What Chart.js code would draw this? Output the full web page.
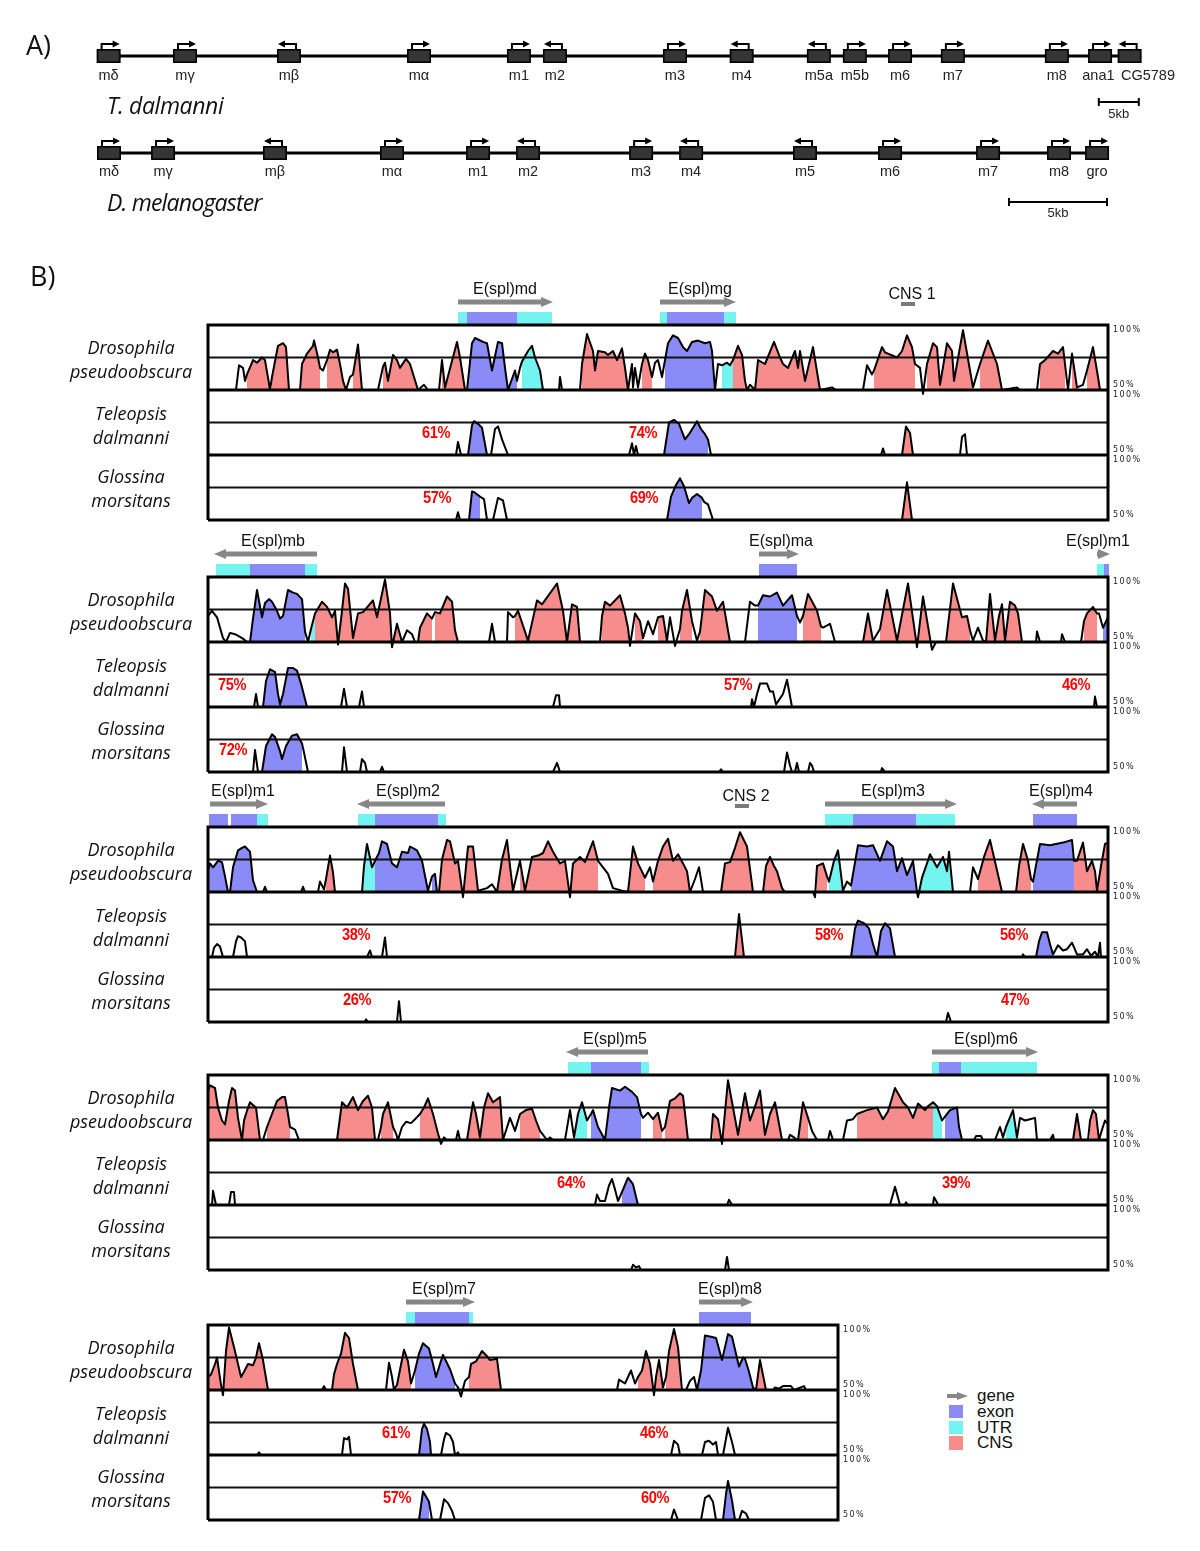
<!DOCTYPE html>
<html><head><meta charset="utf-8">
<script src="https://cdn.jsdelivr.net/npm/chart.js@4.4.0/dist/chart.umd.min.js"></script>
<style>
body{margin:0;background:#fff;}
#wrap{position:relative;width:1200px;height:1551px;overflow:hidden;background:#fff;}
.t{position:absolute;white-space:nowrap;color:#111;}
.sp{position:absolute;left:31px;width:200px;text-align:center;font:italic 18px "Open Sans";color:#111;line-height:24px;height:24px;}
canvas{position:absolute;}
</style></head><body><div id="wrap"></div>
<script>
// ---------------- Panel A data (positions in kb) ----------------
const TD_GENES = ['mδ','mγ','mβ','mα','m1','m2','m3','m4','m5a','m5b','m6','m7','m8','ana1','CG5789'];
const TD_POS = [1.45,11.0,24.0,40.25,52.75,57.25,72.25,80.6,90.25,94.75,100.4,107.0,120.0,125.4,129.1];
const TD_LABEL_POS = [1.45,11.0,24.0,40.25,52.75,57.25,72.25,80.6,90.25,94.75,100.4,107.0,120.0,125.2,131.4];
const TD_STRAND = [1,1,-1,1,1,-1,1,-1,-1,1,1,1,1,1,-1];
const TD_LEN = 130.4;
const TD_SCALE = [125.25,130.25];
const DM_GENES = ['mδ','mγ','mβ','mα','m1','m2','m3','m4','m5','m6','m7','m8','gro'];
const DM_POS = [0.61,3.37,9.08,15.05,19.44,21.99,27.76,30.31,36.12,40.46,45.46,49.08,51.02];
const DM_STRAND = [1,1,-1,1,1,-1,1,-1,-1,1,1,1,1];
const DM_LEN = 51.58;
const DM_SCALE = [46.53,51.53];
const SCALE_LABEL = '5kb';

// ---------------- Panel B data ----------------
// conservation curves: [position, % identity, fill type] (0 none, 1 CNS, 2 exon, 3 UTR); null = gap
const DP1 = [[28,50,0],[31,69,0],[35,67,0],[37,57,0],[39,62,1],[45,73,1],[49,71,1],[54,75,1],[57,73,1],[61,55,1],[62,50,0],[64,60,1],[70,84,1],[75,86,1],[78,83,1],[81,50,0],null,
[92,50,1],[94,70,1],[99,78,1],[105,84,1],[106,88,1],[110,75,1],[112,67,0],[115,65,0],[119,73,1],[122,81,1],[125,79,1],[129,81,1],[132,70,1],[135,57,1],[138,50,0],[142,60,0],[145,62,1],[150,85,1],[154,50,0],null,
[170,50,0],[175,68,1],[177,71,1],[180,57,1],[185,77,1],[189,73,1],[192,67,1],[198,74,1],[202,70,1],[210,50,0],[216,54,0],[220,50,0],null,
[231,50,0],[234,73,1],[237,52,1],[249,87,1],[252,75,1],[257,50,0],[259,50,2],[264,86,2],[267,90,2],[275,87,2],[279,86,2],[284,65,2],[290,87,2],[294,86,2],[297,67,2],[300,50,2],[307,65,2],[309,57,0],[312,67,0],[314,72,3],[320,80,3],[324,84,3],[327,75,3],[332,65,3],[335,50,0],null,
[351,50,0],[352,60,0],[354,50,0],null,
[372,50,0],[374,70,1],[379,93,1],[385,80,1],[387,65,1],[390,80,1],[397,79,1],[400,77,1],[405,80,1],[409,73,1],[414,82,1],[417,67,1],[420,50,0],[424,70,0],[425,52,0],[427,67,0],[430,52,0],[434,70,1],[437,78,1],[440,73,1],[444,60,0],[447,71,0],[450,73,0],[454,60,0],[457,73,2],[460,86,2],[465,92,2],[470,90,2],[475,83,2],[479,80,2],[484,87,2],[490,88,2],[497,86,2],[502,87,2],[504,80,2],[507,50,0],[510,70,0],[514,69,3],[519,71,3],[522,69,3],[525,73,1],[530,84,1],[534,77,1],[537,57,1],[539,50,0],[542,54,0],[547,50,1],[550,73,1],[557,70,1],[566,87,1],[572,75,1],[575,70,1],[580,67,1],[587,80,1],[590,67,1],[592,80,1],[597,57,1],[605,83,1],[612,50,0],[624,52,0],[628,50,0],null,
[655,50,0],[659,69,0],[664,62,0],[666,65,1],[674,83,1],[677,79,1],[689,75,1],[694,80,1],[699,92,1],[704,83,1],[707,70,0],[712,67,0],[715,47,0],[719,70,1],[725,86,1],[729,83,1],[732,54,1],[739,86,1],[744,80,1],[746,57,1],[755,96,1],[762,65,1],[765,52,0],[772,70,1],[780,88,1],[789,70,1],[794,50,0],[809,52,0],[812,50,0],null,
[829,50,0],[832,70,1],[837,73,1],[845,80,1],[850,78,1],[855,83,1],[857,70,0],[860,50,0],[864,78,1],[869,52,0],[875,54,0],[879,65,1],[885,83,1],[890,60,1],[892,50,0],[900,50,0]];
const TD1 = [[248,50,0],[250,60,0],[253,50,0],null,[260,50,2],[264,73,2],[266,76,2],[270,74,2],[274,71,2],[279,50,0],[283,50,0],[287,70,0],[290,72,0],[294,62,0],[300,50,0],null,[421,50,0],[424,59,0],[426,50,0],[428,57,0],[430,50,0],null,[456,50,2],[461,75,2],[466,77,2],[471,74,2],[477,62,2],[481,66,2],[489,76,2],[493,70,2],[497,66,2],[500,62,0],[503,50,0],[505,50,0],null,[673,50,0],[675,55,0],[677,50,0],null,[694,50,1],[698,72,1],[702,67,1],[705,50,0],null,[752,50,0],[754,64,0],[757,66,0],[759,50,0]];
const GM1 = [[248,50,0],[250,56,0],[252,50,0],null,[261,50,2],[264,72,2],[267,71,2],[272,68,0],[276,66,0],[279,50,0],null,[285,50,0],[290,67,0],[295,65,0],[299,50,0],null,[459,50,2],[463,68,2],[468,77,2],[472,82,2],[476,76,2],[481,63,2],[484,67,2],[489,70,2],[494,67,0],[496,64,0],[500,62,0],[505,50,0],null,[694,50,1],[699,79,1],[704,50,0]];

const DP2 = [[0,70,0],[4,74,0],[9,69,0],[15,53,0],[18,50,0],[22,57,0],[27,56,0],[32,54,0],[36,52,0],[39,50,0],[42,50,2],[45,68,2],[49,90,2],[54,69,2],[57,80,2],[61,83,2],[64,81,2],[69,74,2],[72,68,2],[75,70,2],[80,90,2],[85,88,2],[89,87,2],[94,83,2],[97,58,0],[100,50,0],[103,60,3],[107,72,1],[114,81,1],[119,77,1],[124,69,1],[127,74,1],[130,48,1],[134,74,1],[137,95,1],[140,91,1],[145,53,1],[150,72,1],[155,73,1],[165,82,1],[169,69,1],[177,98,1],[182,72,1],[184,46,1],[189,64,1],[194,50,0],[199,59,0],[204,56,0],[207,50,0],[210,50,1],[212,61,1],[219,72,1],[224,68,0],[227,73,1],[232,72,1],[239,85,1],[244,81,1],[247,59,1],[250,50,0],null,
[281,50,0],[284,64,0],[287,50,0],null,
[299,50,0],[300,73,0],[305,69,0],[307,70,1],[310,74,1],[317,58,1],[320,51,1],[329,82,1],[334,79,1],[349,95,1],[355,74,1],[359,50,1],[364,79,1],[369,77,1],[372,50,0],null,
[392,50,0],[394,70,1],[397,81,1],[402,78,1],[412,86,1],[417,72,1],[420,61,0],[422,47,0],[427,72,1],[432,66,1],[435,53,0],[440,66,0],[445,56,0],[450,69,1],[455,70,1],[459,51,0],[462,69,0],[467,47,0],[472,60,1],[474,74,1],[479,90,1],[484,66,0],[489,51,0],[492,58,1],[497,90,1],[504,85,1],[509,74,1],[515,81,1],[522,50,0],null,
[537,50,0],[542,81,0],[547,78,0],[550,78,2],[555,86,2],[562,85,2],[569,88,2],[575,78,2],[584,86,2],[589,70,0],[592,65,0],[595,70,1],[600,87,1],[609,74,1],[613,62,0],[615,61,0],[622,64,0],[627,50,0],null,
[655,50,1],[660,72,1],[665,51,0],[672,60,1],[679,90,1],[689,51,1],[700,95,1],[709,46,1],[715,85,1],[724,44,0],[728,50,0],null,
[738,50,1],[745,95,1],[754,69,1],[759,70,1],[762,59,0],[765,51,0],[770,61,0],[775,51,0],[778,50,1],[782,87,1],[787,51,1],[791,70,1],[794,79,1],[797,51,1],[802,81,1],[807,78,1],[810,72,1],[814,50,0],null,
[828,50,0],[829,58,0],[832,50,0],null,[853,50,0],[854,56,0],[857,50,0],null,
[873,50,0],[876,66,1],[879,72,1],[885,77,1],[889,72,0],[891,72,0],[895,61,2],[900,69,2]];
const TD2 = [[46,50,0],[48,60,0],[50,50,0],null,[55,50,2],[58,70,2],[62,79,2],[67,77,2],[70,60,2],[72,52,2],[75,60,2],[80,80,2],[85,80,2],[89,78,2],[93,68,2],[99,50,0],null,[133,50,0],[136,64,0],[139,50,0],null,[151,50,0],[154,62,0],[156,50,0],null,[345,50,0],[348,59,0],[351,59,0],[352,50,0],null,[543,50,0],[544,56,0],[546,50,0],[549,60,0],[552,68,0],[559,68,0],[562,62,0],[565,62,0],[568,52,0],[575,60,0],[579,71,0],[584,50,0],null,[886,50,0],[887,58,0],[889,50,0]];
const GM2 = [[45,50,0],[47,67,0],[50,50,0],null,[54,50,2],[58,70,2],[64,79,2],[67,77,2],[72,66,2],[74,60,2],[78,70,2],[84,78,2],[89,79,2],[94,72,0],[96,65,0],[100,50,0],null,[134,50,0],[136,69,0],[139,50,0],null,[152,50,0],[154,60,0],[157,57,0],[159,50,0],null,[172,50,0],[174,54,0],[176,50,0],null,[345,50,0],[349,57,0],[352,50,0],null,[511,50,0],[513,52,0],[515,50,0],null,[576,50,0],[579,65,0],[582,55,0],[584,50,0],null,[587,50,0],[589,57,0],[591,50,0],null,[600,50,0],[602,57,0],[604,55,0],[606,50,0],null,[673,50,0],[674,53,0],[677,50,0]];

const DP3 = [[0,67,2],[2,72,2],[5,69,2],[10,74,2],[14,73,2],[17,62,2],[20,50,0],[22,50,2],[25,69,2],[30,82,2],[34,84,2],[37,85,2],[42,81,2],[45,59,2],[49,50,0],null,
[55,50,0],[57,54,0],[59,50,0],null,[93,50,0],[95,54,0],[97,50,0],null,
[110,50,0],[112,58,0],[116,52,0],[118,60,1],[122,78,1],[125,65,1],[127,50,0],null,
[154,50,3],[156,70,3],[159,87,3],[164,69,3],[167,74,2],[171,80,2],[174,89,2],[179,87,2],[184,72,2],[189,69,2],[194,81,2],[200,80,2],[202,85,2],[209,82,2],[214,74,2],[220,51,0],[224,62,2],[227,64,2],[229,50,0],
[231,50,1],[234,75,1],[239,90,1],[242,89,1],[247,72,1],[250,74,1],[255,46,1],[260,85,1],[265,85,1],[270,51,0],[279,53,0],[284,56,0],[289,50,1],[294,75,1],[299,90,1],[302,70,1],[305,51,0],[312,74,1],[317,51,1],[324,77,1],[330,78,1],[335,80,1],[340,89,1],[345,81,1],[352,72,1],[357,74,1],[362,46,1],[365,72,1],[372,77,1],[377,73,1],[385,89,1],[390,74,0],[395,69,0],[400,64,0],[405,53,0],[414,51,0],[420,50,1],[425,85,1],[430,72,1],[437,61,0],[442,69,0],[445,58,1],[450,74,1],[455,85,1],[460,91,1],[465,74,1],[470,79,1],[475,72,1],[479,66,1],[482,50,0],[487,60,0],[491,69,0],[495,50,0],null,
[513,50,1],[517,72,1],[522,73,1],[527,84,1],[532,96,1],[539,85,1],[545,50,0],null,
[555,50,1],[558,70,1],[562,77,1],[566,70,1],[569,66,1],[574,53,0],[577,50,0],null,
[605,50,0],[607,46,0],[609,70,1],[615,72,1],[619,62,0],[621,58,3],[626,74,3],[630,82,3],[635,51,0],[639,58,0],[643,55,2],[650,86,2],[659,85,2],[665,86,2],[672,74,2],[679,89,2],[685,85,2],[689,66,2],[694,76,2],[699,63,2],[705,74,2],[709,50,3],[710,46,3],[714,61,3],[719,72,3],[722,79,3],[729,69,3],[735,77,3],[739,66,3],[741,81,3],[745,50,0],null,
[762,50,0],[765,69,0],[770,60,1],[776,77,1],[782,90,1],[788,70,1],[794,50,0],null,
[808,50,1],[811,70,1],[815,87,1],[820,74,1],[823,60,0],[825,58,2],[832,87,2],[842,86,2],[855,88,2],[864,90,2],[866,74,1],[869,74,1],[875,88,1],[879,66,1],[884,74,1],[887,66,1],[889,51,1],[893,70,1],[897,87,1],[900,88,1]];
const TD3 = [[4,50,0],[6,57,0],[9,60,0],[12,58,0],[15,50,0],null,[25,50,0],[28,62,0],[30,66,0],[33,65,0],[37,62,0],[39,50,0],null,[159,50,0],[162,55,0],[164,50,0],null,[174,50,0],[177,65,0],[179,50,0],null,[527,50,1],[531,83,1],[536,50,0],null,[643,50,2],[647,72,2],[650,78,2],[656,76,2],[661,72,2],[665,60,2],[669,50,2],[673,70,2],[677,76,2],[682,72,2],[687,50,0],null,[814,50,0],[815,52,0],[817,50,0],null,[828,50,2],[831,62,2],[834,69,2],[839,69,2],[842,60,2],[845,52,0],[850,59,0],[855,55,0],[859,56,0],[864,61,0],[869,52,0],[875,52,0],[879,56,0],[883,51,0],[887,54,0],[890,50,0],[892,61,0],[893,50,0]];
const GM3 = [[157,50,0],[158,52,0],[160,50,0],null,[189,50,0],[191,66,0],[193,50,0],null,[738,50,0],[740,57,0],[743,50,0]];

const DP4 = [[0,88,1],[2,92,1],[7,90,1],[10,75,1],[14,65,1],[17,62,1],[21,80,1],[24,90,1],[27,88,1],[30,67,1],[34,50,1],[36,65,1],[40,75,1],[42,79,1],[45,77,1],[48,75,1],[52,50,0],[55,50,0],[59,60,1],[64,70,1],[69,80,1],[74,83,1],[77,83,1],[80,70,1],[82,60,0],[87,58,0],[91,50,0],null,
[129,50,1],[134,79,1],[139,75,1],[145,83,1],[150,73,1],[155,80,1],[160,84,1],[164,75,1],[167,50,0],[170,50,0],[173,60,1],[175,70,1],[180,79,1],[185,60,0],[188,55,0],[190,50,0],[194,60,0],[198,64,0],[203,63,0],[207,66,0],[212,70,1],[216,75,1],[220,82,1],[225,70,1],[230,55,0],[233,47,0],[236,52,0],[239,50,0],null,
[248,50,0],[250,57,0],[252,50,0],null,
[259,50,1],[265,79,1],[268,70,1],[272,52,1],[276,75,1],[280,86,1],[285,79,1],[292,83,1],[295,50,0],[302,67,0],[307,57,0],[312,70,1],[318,73,1],[324,74,1],[328,65,1],[332,57,0],[339,50,0],[342,52,0],[345,50,0],null,
[357,50,0],[362,73,0],[366,52,3],[370,70,3],[374,79,3],[379,65,0],[383,70,2],[385,73,2],[390,60,2],[397,50,2],[401,75,2],[404,90,2],[412,88,2],[417,91,2],[424,87,2],[429,83,2],[433,70,0],[435,67,0],[440,71,0],[445,66,1],[450,71,1],[454,57,0],[457,60,1],[462,80,1],[467,82,1],[472,86,1],[475,84,1],[480,50,0],null,
[503,50,0],[505,70,1],[510,66,1],[514,47,1],[520,96,1],[525,75,1],[530,54,1],[537,86,1],[542,65,1],[548,78,1],[552,88,1],[557,54,1],[562,70,1],[567,79,1],[574,50,0],[580,50,0],[582,54,0],[586,52,0],[589,50,0],[590,50,1],[595,79,1],[600,67,0],[604,57,0],[609,50,0],null,
[620,50,0],[622,57,0],[625,50,0],null,
[635,50,0],[639,65,0],[645,66,0],[649,70,1],[659,73,1],[669,75,1],[675,66,1],[680,72,1],[687,90,1],[695,79,1],[700,75,1],[705,67,1],[710,78,1],[717,73,1],[720,76,1],[725,79,3],[729,76,3],[734,65,0],[737,68,2],[742,73,2],[749,75,2],[751,60,2],[754,50,0],null,
[766,50,0],[768,53,0],[773,53,0],[775,50,0],null,
[787,50,0],[792,60,0],[795,52,0],[798,60,3],[805,73,3],[809,52,0],[812,67,0],[817,65,0],[822,66,0],[827,67,0],[829,50,0],null,
[842,50,0],[845,54,0],[846,50,0],null,
[865,50,1],[869,70,1],[873,50,0],null,
[880,50,0],[882,65,1],[885,73,1],[888,70,1],[891,50,0],[894,58,0],[897,65,0],[900,62,0]];
const TD4 = [[4,50,0],[5,61,0],[8,50,0],null,[21,50,0],[23,60,0],[26,60,0],[27,50,0],null,[387,50,0],[389,58,0],[392,53,0],[397,53,0],[401,65,0],[404,70,0],[407,62,0],[410,53,0],[414,60,2],[420,71,2],[425,66,2],[430,50,0],null,[519,50,0],[521,54,0],[524,50,0],null,[682,50,0],[687,64,0],[692,50,0],null,[697,50,0],[698,52,0],[700,50,0],null,[725,50,0],[726,56,0],[729,52,0],[730,50,0]];
const GM4 = [[423,50,0],[425,54,0],[428,52,0],[431,53,0],[433,50,0],null,[517,50,0],[519,60,0],[521,50,0]];

const DP5 = [[0,60,1],[3,62,1],[7,70,1],[9,75,1],[13,54,1],[15,46,1],[18,80,1],[21,98,1],[26,83,1],[30,70,1],[33,60,1],[36,64,1],[40,70,1],[45,69,1],[48,75,1],[51,86,1],[55,73,1],[60,50,0],null,
[114,50,0],[116,53,0],[118,50,0],null,
[124,50,1],[126,62,1],[129,70,1],[133,78,1],[137,94,1],[141,90,1],[145,70,1],[150,50,0],null,
[178,50,0],[181,71,0],[184,60,0],[186,50,0],[189,54,1],[196,81,1],[200,72,1],[203,55,0],[207,65,2],[211,78,2],[215,86,2],[221,82,2],[225,70,2],[228,60,2],[232,70,2],[235,77,2],[242,66,2],[247,55,0],[250,52,0],[253,45,0],[257,57,0],[261,60,1],[263,70,1],[268,72,1],[274,80,1],[279,76,1],[282,73,1],[289,74,1],[293,50,0],null,
[409,50,0],[411,58,0],[417,55,0],[423,65,0],[427,55,0],[430,60,1],[434,65,1],[438,80,1],[442,70,1],[446,46,0],[448,60,1],[451,73,1],[455,52,0],[458,60,1],[461,80,1],[466,97,1],[470,83,1],[474,50,0],[478,50,0],[482,57,0],[486,60,0],[489,50,2],[493,65,2],[497,92,2],[503,91,2],[508,90,2],[514,73,2],[520,93,2],[524,91,2],[531,68,2],[535,75,2],[537,74,2],[541,64,2],[545,52,0],[548,50,1],[552,73,1],[558,50,0],[565,50,0],[567,52,0],[571,51,0],[575,53,0],[583,53,0],[586,50,0],[596,53,0],[598,50,0]];
const TD5 = [[49,50,0],[51,52,0],[53,50,0],null,[134,50,0],[136,63,0],[139,62,0],[141,64,0],[143,50,0],null,[211,50,2],[214,70,2],[216,74,2],[219,70,2],[222,60,2],[223,50,0],null,[233,50,0],[236,62,0],[238,67,0],[242,65,0],[245,60,0],[247,50,0],[250,52,0],[251,50,0],null,[463,50,0],[466,61,0],[470,58,0],[472,50,0],null,[494,50,0],[497,60,0],[501,61,0],[505,58,0],[508,60,0],[510,50,0],null,[515,50,0],[520,71,0],[524,60,0],[527,50,0]];
const GM5 = [[211,50,2],[215,72,2],[218,68,2],[221,64,0],[224,50,0],null,[232,50,0],[236,66,0],[240,63,0],[244,57,0],[247,50,0],null,[463,50,0],[466,58,0],[470,50,0],null,[493,50,0],[497,67,0],[501,69,0],[505,64,0],[508,50,0],null,[515,50,2],[518,70,2],[520,80,2],[524,65,2],[527,50,0],null,[531,50,0],[534,57,0],[538,55,0],[541,50,0]];

// gene annotations: [name, start, end, strand, label position]
const GENES1 = [['E(spl)md',250,345,1,297],['E(spl)mg',452,528,1,492]];
const GENES2 = [['E(spl)mb',6,109,-1,65],['E(spl)ma',551,591,1,573],['E(spl)m1',889,902,1,890]];
const GENES3 = [['E(spl)m1',2,60,1,35],['E(spl)m2',149,237,-1,200],['E(spl)m3',617,749,1,685],['E(spl)m4',824,869,-1,853]];
const GENES4 = [['E(spl)m5',358,440,-1,407],['E(spl)m6',724,830,1,778]];
const GENES5 = [['E(spl)m7',198,267,1,236],['E(spl)m8',491,545,1,522]];
// exon / UTR blocks: [start, end, 'e'|'u']
const BARS1 = [[250,259,'u'],[259,309,'e'],[309,344,'u'],[452,459,'u'],[459,516,'e'],[516,528,'u']];
const BARS2 = [[8,42,'u'],[42,97,'e'],[97,109,'u'],[551,589,'e'],[889,896,'u'],[896,901,'e']];
const BARS3 = [[1,20,'e'],[23,49,'e'],[49,60,'u'],[150,167,'u'],[167,230,'e'],[230,238,'u'],[617,645,'u'],[645,708,'e'],[708,747,'u'],[825,869,'e']];
const BARS4 = [[360,383,'u'],[383,433,'e'],[433,441,'u'],[724,731,'u'],[731,753,'e'],[753,829,'u']];
const BARS5 = [[198,207,'u'],[207,261,'e'],[261,265,'u'],[491,543,'e']];
// conserved non-coding element markers: [name, start, end, label position]
const CNS1 = [['CNS 1',693,707,704]];
const CNS3 = [['CNS 2',527,541,538]];
// red identity labels: [position, track (1 Teleopsis, 2 Glossina), text]
const RED1 = [[228,1,'61%'],[435,1,'74%'],[229,2,'57%'],[436,2,'69%']];
const RED2 = [[24,1,'75%'],[530,1,'57%'],[868,1,'46%'],[25,2,'72%']];
const RED3 = [[148,1,'38%'],[621,1,'58%'],[806,1,'56%'],[149,2,'26%'],[807,2,'47%']];
const RED4 = [[363,1,'64%'],[748,1,'39%']];
const RED5 = [[188,1,'61%'],[446,1,'46%'],[189,2,'57%'],[447,2,'60%']];

const SPECIES = [['Drosophila','pseudoobscura'],['Teleopsis','dalmanni'],['Glossina','morsitans']];
const Y_TICKS = ['100%','50%'];
const LEGEND = ['gene','exon','UTR','CNS'];

// ---------------- rendering ----------------
const wrap = document.getElementById('wrap');
const FILL = {1:'#f68c8c',2:'#8b8bf7',3:'#74f4f1'};
const GREY = '#878787';

function addText(txt, css){ const d=document.createElement('div'); d.className='t'; d.textContent=txt; d.style.cssText+=css; wrap.appendChild(d); return d; }
function mkCanvas(left, top, w, h){ const c=document.createElement('canvas'); c.width=w; c.height=h; c.style.left=left+'px'; c.style.top=top+'px'; c.style.width=w+'px'; c.style.height=h+'px'; wrap.appendChild(c); return c; }
function textPlugin(items){
  return {id:'txt', afterDatasetsDraw(chart){
    const ctx=chart.ctx, xs=chart.scales.x, ys=chart.scales.y;
    for(const t of items){
      ctx.save();
      ctx.font=t.font; ctx.fillStyle=t.color||'#111'; ctx.textAlign=t.align||'center'; ctx.textBaseline='middle';
      if(t.ls) ctx.letterSpacing=t.ls;
      ctx.translate(xs.getPixelForValue(t.x)+(t.dx||0), ys.getPixelForValue(t.y)+(t.dy||0));
      if(t.sx) ctx.scale(t.sx,1);
      ctx.fillText(t.text,0,0); ctx.restore();
    }
  }};
}
const baseOpts = (xmax, ymin, ymax, pad) => ({
  responsive:false, animation:false, events:[], devicePixelRatio:1,
  layout:{padding:pad},
  scales:{x:{type:'linear',min:0,max:xmax,display:false}, y:{type:'linear',min:ymin,max:ymax,display:false}},
  plugins:{legend:{display:false},tooltip:{enabled:false}},
  elements:{point:{radius:0,hoverRadius:0},line:{tension:0}}
});

// panel A glyphs
function geneGlyph(dir){
  const c=document.createElement('canvas'); c.width=26; c.height=32; const g=c.getContext('2d');
  g.fillStyle='#353535'; g.fillRect(1,9,24,14);
  g.strokeStyle='#000'; g.lineWidth=1.6; g.strokeRect(1.8,9.8,22.4,12.4);
  g.lineWidth=2; g.fillStyle='#000'; g.beginPath();
  if(dir>0){g.moveTo(6,10);g.lineTo(6,4);g.lineTo(18,4);} else {g.moveTo(20,10);g.lineTo(20,4);g.lineTo(8,4);}
  g.stroke(); g.beginPath();
  if(dir>0){g.moveTo(24,4);g.lineTo(17,0.5);g.lineTo(17,7.5);} else {g.moveTo(2,4);g.lineTo(9,0.5);g.lineTo(9,7.5);}
  g.closePath(); g.fill(); return c;
}
const GP = geneGlyph(1), GM_ = geneGlyph(-1);

function panelA(top, rightPad, len, names, pos, labelPos, strand, scale, labY, barY, kbY){
  // canvas extends 10px above/below the plotted y-range (padding absorbs Chart.js auto-padding)
  const c = mkCanvas(0, top-10, 1200, 120);
  const items = names.map((n,i)=>({x:labelPos[i], y:labY, text:n, font:'14.5px "Liberation Sans"', color:'#222'}));
  items.push({x:(scale[0]+scale[1])/2, y:kbY, text:SCALE_LABEL, font:'13px "Liberation Sans"', color:'#222'});
  new Chart(c, {type:'line', data:{datasets:[
    {data:pos.map(p=>({x:p,y:0})), showLine:false, pointRadius:5, pointStyle:ctx=>strand[ctx.dataIndex]>0?GP:GM_, order:0, clip:false},
    {data:[{x:0,y:0},{x:len,y:0}], borderColor:'#000', borderWidth:3.2, order:1, clip:false},
    {data:[{x:scale[0],y:barY},{x:scale[1],y:barY}], borderColor:'#000', borderWidth:2, pointRadius:4, pointStyle:'line', rotation:90, pointBorderColor:'#000', pointBorderWidth:2, order:1, clip:false}
  ]}, options:baseOpts(len,-74,26,{left:97,right:rightPad,top:10,bottom:10}), plugins:[textPlugin(items)]});
}
panelA(30, 60, TD_LEN, TD_GENES, TD_POS, TD_LABEL_POS, TD_STRAND, TD_SCALE, -20, -46, -58);
panelA(127, 92, DM_LEN, DM_GENES, DM_POS, DM_POS, DM_STRAND, DM_SCALE, -19, -49, -60);
addText('A)', 'left:26px;top:26px;font:27px "Open Sans";color:#111;');
addText('B)', 'left:30px;top:257px;font:27px "Open Sans";color:#111;');
addText('T. dalmanni', 'left:107px;top:89px;font:italic 23px "Open Sans";letter-spacing:-0.4px;');
addText('D. melanogaster', 'left:107px;top:186px;font:italic 23px "Open Sans";letter-spacing:-0.8px;');

// panel B rows
const ROW_TOP = [325,577,827,1075,1325];
const ROW_W = [900,900,900,900,630];
const DP=[DP1,DP2,DP3,DP4,DP5], TD=[TD1,TD2,TD3,TD4,TD5], GMS=[GM1,GM2,GM3,GM4,GM5];
const GENES=[GENES1,GENES2,GENES3,GENES4,GENES5], BARS=[BARS1,BARS2,BARS3,BARS4,BARS5];
const CNS=[CNS1,[],CNS3,[],[]], RED=[RED1,RED2,RED3,RED4,RED5];
const U = 1.3; // px per % unit

function headGlyph(dir){ const c=document.createElement('canvas'); c.width=12; c.height=10; const g=c.getContext('2d'); g.fillStyle=GREY; g.beginPath(); if(dir>0){g.moveTo(0,0);g.lineTo(12,5);g.lineTo(0,10);} else {g.moveTo(12,0);g.lineTo(0,5);g.lineTo(12,10);} g.closePath(); g.fill(); return c; }
const HR=headGlyph(1), HL=headGlyph(-1);

function curveData(pts, base){ const out=[]; let lx=0; for(const p of pts){ if(p===null) out.push({x:lx,y:null}); else { lx=p[0]; out.push({x:p[0],y:p[1]-50+base}); } } return out; }
function fillData(pts, type, base){
  const out=[]; let open=false;
  for(let i=0;i<pts.length-1;i++){
    const p=pts[i], n=pts[i+1];
    if(p && n && p[2]===type){
      if(!open){ out.push({x:p[0],y:p[1]-50+base}); open=true; }
      out.push({x:n[0],y:n[1]-50+base});
    } else if(open){ out.push({x:p?p[0]:0,y:null}); open=false; }
  }
  return out;
}

function drawRow(i){
  const W=ROW_W[i], top=ROW_TOP[i];
  const c = mkCanvas(150, top-58, 58+W+52, 263);
  const tracks=[DP[i],TD[i],GMS[i]], bases=[100,50,0];
  const ds=[];
  tracks.forEach((pts,k)=>{
    ds.push({data:curveData(pts,bases[k]), borderColor:'#000', borderWidth:2, borderJoinStyle:'round', order:0, clip:false});
    [1,2,3].forEach(t=>{ const d=fillData(pts,t,bases[k]); if(d.length) ds.push({data:d, borderWidth:0, borderColor:'rgba(0,0,0,0)', backgroundColor:FILL[t], fill:{value:bases[k]}, order:3, clip:false}); });
  });
  ds.push({data:[{x:0,y:0},{x:W,y:0},{x:W,y:150},{x:0,y:150},{x:0,y:0},{x:0,y:null},{x:0,y:100},{x:W,y:100},{x:W,y:null},{x:0,y:50},{x:W,y:50}], borderColor:'#000', borderWidth:3, borderJoinStyle:'miter', order:1, clip:false});
  ds.push({data:[{x:0,y:125},{x:W,y:125},{x:W,y:null},{x:0,y:75},{x:W,y:75},{x:W,y:null},{x:0,y:25},{x:W,y:25}], borderColor:'#111', borderWidth:1.8, order:1, clip:false});
  // annotation
  const barY=150+7/U, arrY=150+23/U, labY=150+35/U, cnsY=150+21/U, cnsLab=150+30/U;
  ['e','u'].forEach(tp=>{
    const d=[]; BARS[i].filter(b=>b[2]===tp).forEach(b=>{ d.push({x:b[0],y:barY},{x:b[1],y:barY},{x:b[1],y:null}); });
    if(d.length) ds.push({data:d, borderColor:tp==='e'?FILL[2]:FILL[3], borderWidth:12, borderCapStyle:'butt', order:2, clip:false});
  });
  const shaft=[], heads=[];
  GENES[i].forEach(g=>{
    if(g[3]>0){ shaft.push({x:g[1],y:arrY},{x:g[2]-11,y:arrY},{x:g[2],y:null}); heads.push({x:g[2]-6,y:arrY}); }
    else { shaft.push({x:g[2],y:arrY},{x:g[1]+11,y:arrY},{x:g[1],y:null}); heads.push({x:g[1]+6,y:arrY}); }
  });
  ds.push({data:shaft, borderColor:GREY, borderWidth:5, borderCapStyle:'butt', order:2, clip:false});
  const gi=GENES[i];
  ds.push({data:heads, showLine:false, pointRadius:5, pointStyle:ctx=>gi[ctx.dataIndex][3]>0?HR:HL, order:2, clip:false});
  if(CNS[i].length){ const d=[]; CNS[i].forEach(b=>d.push({x:b[1],y:cnsY},{x:b[2],y:cnsY},{x:b[2],y:null})); ds.push({data:d, borderColor:'#7a7a7a', borderWidth:4, borderCapStyle:'butt', order:2, clip:false}); }

  const items=[];
  GENES[i].forEach(g=>items.push({x:g[4], y:labY, text:g[0], font:'16px "Liberation Sans"', color:'#111'}));
  CNS[i].forEach(b=>items.push({x:b[3], y:cnsLab, text:b[0], font:'16px "Liberation Sans"', color:'#111'}));
  RED[i].forEach(r=>items.push({x:r[0], y:bases[r[1]]+17, text:r[2], font:'bold 17px "Liberation Sans"', color:'#f00', sx:0.86, ls:'-0.5px'}));
  bases.forEach(b=>{
    items.push({x:W, y:b+50, dx:5, dy:5, align:'left', text:Y_TICKS[0], font:'8px "DejaVu Sans"', color:'#222', ls:'1.4px'});
    items.push({x:W, y:b, dx:5, dy:-5, align:'left', text:Y_TICKS[1], font:'8px "DejaVu Sans"', color:'#222', ls:'1.4px'});
  });
  // padding top 10 (>= Chart.js auto overflow padding) -> chart area top = top-48
  new Chart(c, {type:'line', data:{datasets:ds}, options:baseOpts(W, 0, 150+48/U, {left:58,right:52,top:10,bottom:10}), plugins:[textPlugin(items)]});

  // species labels
  const offs=[[22,46],[88,112],[151,175]];
  SPECIES.forEach((s,k)=>{ s.forEach((w,j)=>{ const d=document.createElement('div'); d.className='sp'; d.textContent=w; d.style.top=(top+offs[k][j]-12)+'px'; wrap.appendChild(d); }); });
}
for(let i=0;i<5;i++) drawRow(i);

// legend
(function(){
  const add=(css)=>{const d=document.createElement('div'); d.style.cssText='position:absolute;'+css; wrap.appendChild(d);};
  add('left:947px;top:1394px;width:11px;height:4px;background:'+GREY);
  add('left:957px;top:1392px;width:0;height:0;border-left:11px solid '+GREY+';border-top:4px solid transparent;border-bottom:4px solid transparent;');
  add('left:949px;top:1405px;width:14px;height:13px;background:'+FILL[2]);
  add('left:949px;top:1421px;width:14px;height:13px;background:'+FILL[3]);
  add('left:949px;top:1436px;width:14px;height:14px;background:'+FILL[1]);
  const ys=[1396,1412,1428,1443];
  LEGEND.forEach((t,k)=>addText(t,'left:977px;top:'+(ys[k]-10)+'px;font:17px "Liberation Sans";line-height:20px;'));
})();
</script></body></html>
